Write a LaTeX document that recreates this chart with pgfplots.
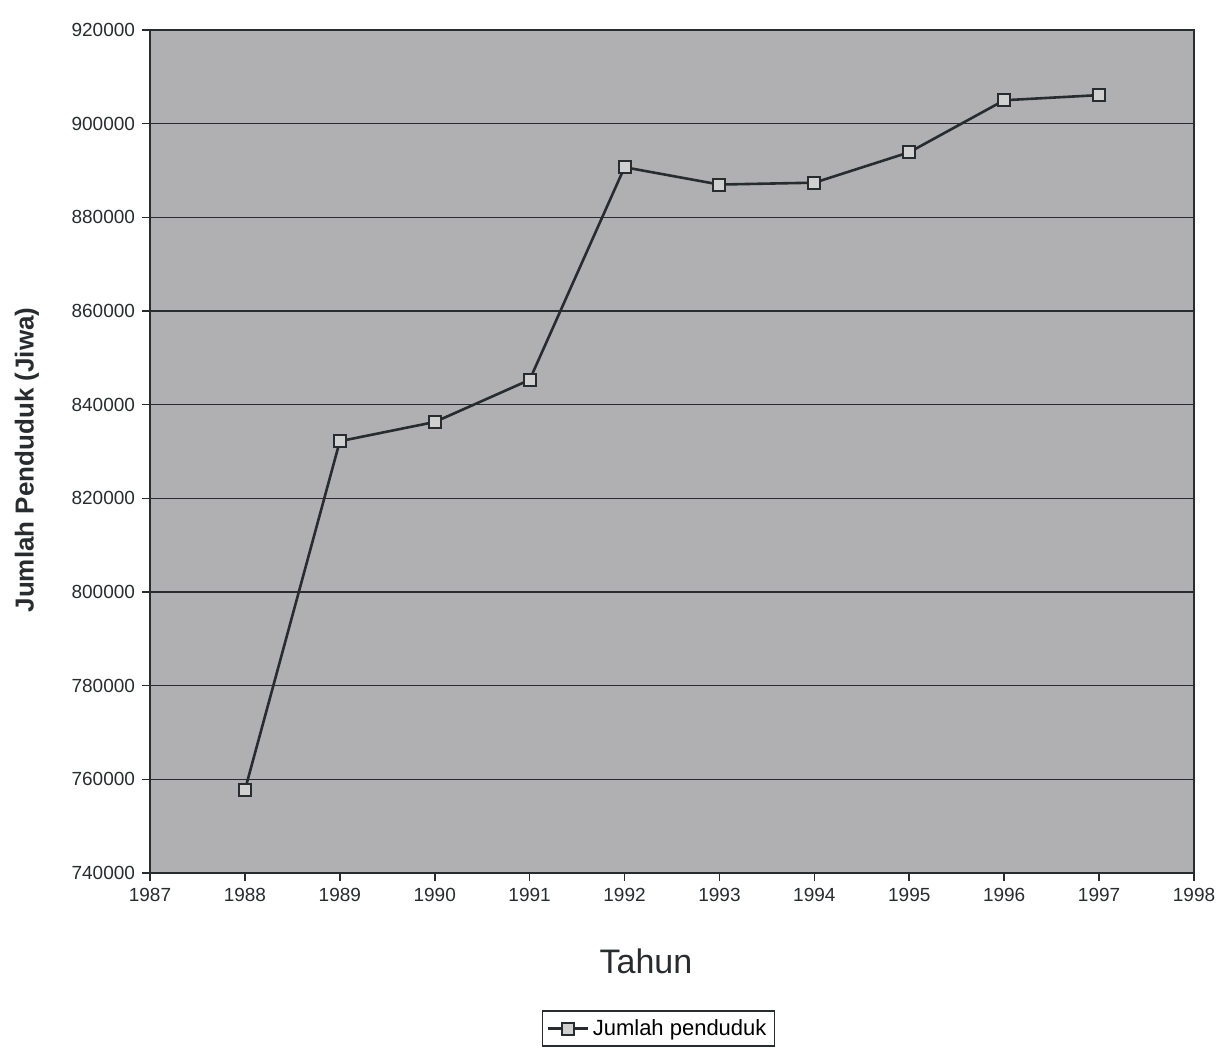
\documentclass[border=0pt]{standalone}
\usepackage{pgfplots}
\pgfplotsset{compat=1.18}
\usepackage{fontspec}
\setmainfont{Liberation Sans}
\definecolor{plotbg}{RGB}{176,176,178}
\definecolor{ink}{RGB}{40,44,46}
\begin{document}
\begin{tikzpicture}
\useasboundingbox (-75pt,-91.5pt) rectangle (534pt,436.5pt);
\begin{axis}[
  at={(0,0)}, anchor=south west,
  scale only axis,
  width=522pt, height=421.5pt,
  xmin=1987, xmax=1998,
  ymin=740000, ymax=920000,
  xtick={1987,1988,...,1998},
  ytick={740000,760000,...,920000},
  scaled y ticks=false,
  /pgf/number format/.cd, fixed, set thousands separator={}, assume math mode=true, /pgfplots/.cd,
  tick label style={font=\fontsize{9.5}{11}\selectfont, text=ink},
  tick align=outside,
  tick pos=left,
  major tick length=4pt,
  every tick/.style={ink, line width=0.8pt},
  axis line style={ink, line width=1pt},
  axis background/.style={fill=plotbg},
  ymajorgrids,
  grid style={ink, line width=0.8pt},
  xlabel={Tahun},
  ylabel={\textbf{Jumlah Penduduk (Jiwa)}},
  xlabel style={font=\fontsize{17}{20}\selectfont, text=ink, at={(axis description cs:0.475,-0.105)}, anchor=center},
  ylabel style={font=\fontsize{13}{15}\selectfont, text=ink, at={(axis description cs:-0.118,0.49)}, anchor=center},
  legend style={at={(axis description cs:0.487,-0.163)}, anchor=north, draw=ink, line width=0.8pt, font=\fontsize{11}{13}\selectfont, inner sep=2pt, row sep=0pt},
  legend image code/.code={\draw[#1, mark repeat=2, mark phase=2] plot coordinates {(0cm,0cm) (0.35cm,0cm) (0.7cm,0cm)};},
  legend cell align=left,
  clip=false,
]
\addplot[ink, line width=1.3pt, mark=square*, mark size=3pt, mark options={fill=plotbg!60!white, draw=ink, line width=1pt}]
  coordinates {
  (1988,757700)
  (1989,832200)
  (1990,836300)
  (1991,845300)
  (1992,890700)
  (1993,887000)
  (1994,887400)
  (1995,893900)
  (1996,905000)
  (1997,906100)
  };
\addlegendentry{Jumlah penduduk}
\end{axis}
\end{tikzpicture}
\end{document}
